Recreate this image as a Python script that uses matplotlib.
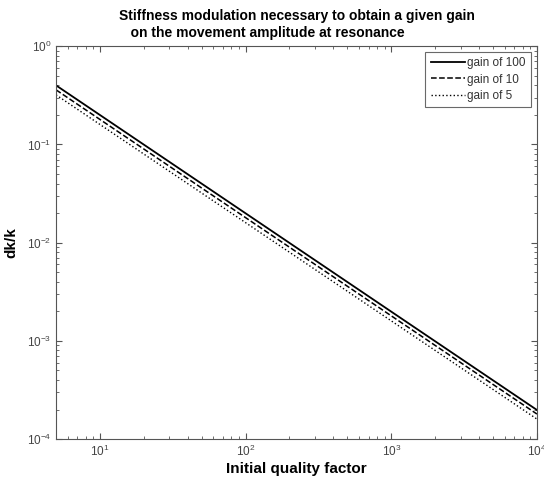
import matplotlib
matplotlib.use("Agg")
import matplotlib.pyplot as plt

# line end points (straight lines on log-log axes)
quality = [5, 10000]
gain_100 = [0.40, 1.98e-4]
gain_10 = [0.36, 1.8e-4]
gain_5 = [0.32, 1.6e-4]

plt.rcParams['font.family'] = ['Liberation Sans', 'DejaVu Sans']

fig = plt.figure(figsize=(5.44, 4.82), dpi=100)
ax = fig.add_axes([0.103, 0.089, 0.884, 0.815])

ax.loglog(quality, gain_100, 'k-', lw=1.3, label="gain of 100")
ax.loglog(quality, gain_10, 'k--', lw=1.1, label="gain of 10")
ax.loglog(quality, gain_5, 'k:', lw=1.0, label="gain of 5")

ax.set_xlim(5, 1e4)
ax.set_ylim(1e-4, 1)

ax.tick_params(which='both', direction='in', top=True, right=True,
               labelsize=8.5, labelcolor='#444444', color='#555555')
ax.tick_params(which='major', length=4)
ax.tick_params(which='minor', length=2)
for s in ax.spines.values():
    s.set_color('#555555')

ax.set_xlabel("Initial quality factor", fontsize=11, fontweight='bold',
              labelpad=2)
ax.set_ylabel("dk/k", fontsize=11, fontweight='bold', labelpad=6)
ax.set_title("Stiffness modulation necessary to obtain a given gain\n"
             "   on the movement amplitude at resonance",
             fontsize=10, fontweight='bold', multialignment='left', pad=7)

leg = ax.legend(loc='upper right', fontsize=8.5, fancybox=False,
                handlelength=2.9, borderpad=0.45, labelspacing=0.35,
                handletextpad=0.2, borderaxespad=0.5)
leg.get_frame().set_edgecolor('#444444')
leg.get_frame().set_linewidth(0.8)
for t in leg.get_texts():
    t.set_color('#333333')

fig.savefig("out.png", dpi=100)
